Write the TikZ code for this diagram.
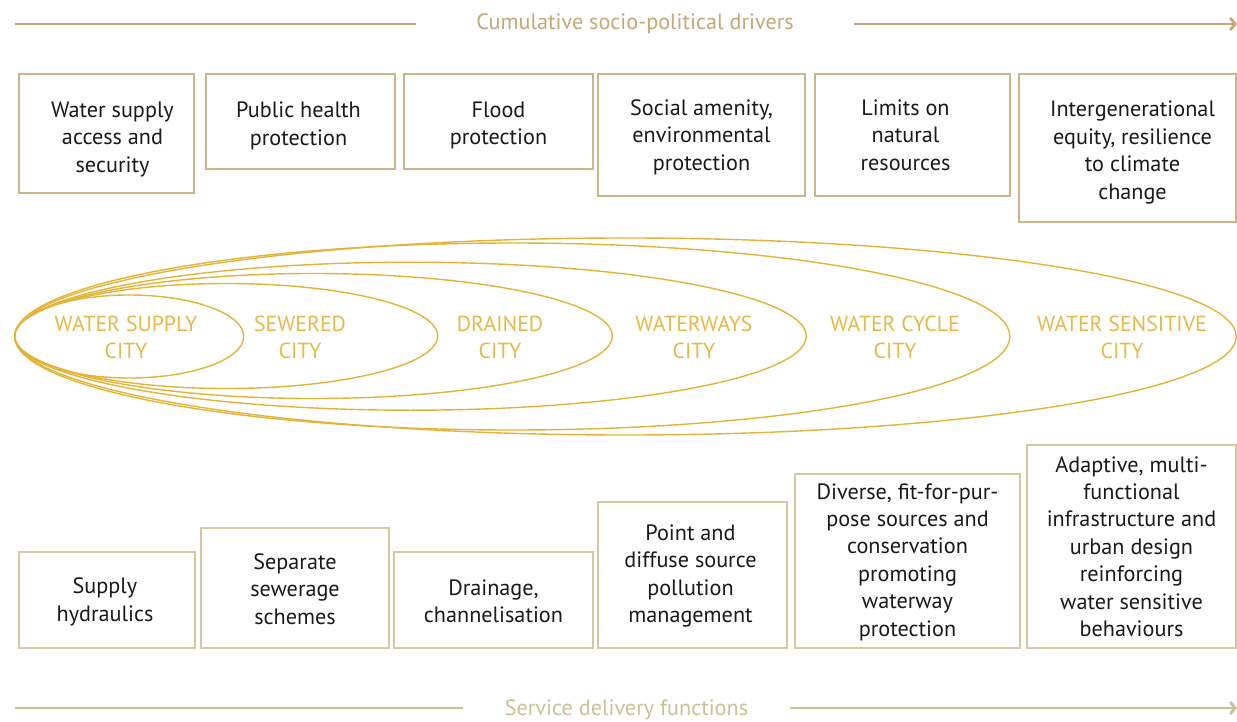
\documentclass[tikz,border=0pt]{standalone}
\usepackage{fontspec}
\setmainfont{PT Sans}
\usetikzlibrary{arrows.meta}
\definecolor{toptan}{HTML}{C6A878}
\definecolor{topbox}{HTML}{CDB48C}
\definecolor{bottan}{HTML}{CBC197}
\definecolor{botbox}{HTML}{D3CAA3}
\definecolor{gold}{HTML}{E3B437}
\definecolor{goldtxt}{HTML}{E6BA48}
\definecolor{ink}{HTML}{1A1A1A}
\tikzset{
  basefont/.style={font=\fontsize{22.2}{27.4}\selectfont},
  tbox/.style={draw=topbox, line width=1.6pt, inner sep=0pt},
  bbox/.style={draw=botbox, line width=1.6pt, inner sep=0pt},
  txt/.style={basefont, text=ink, align=center, inner sep=0pt},
  hdr/.style={font=\fontsize{22.2}{27}\selectfont, inner sep=0pt},
  ell/.style={draw=gold, line width=1.4pt},
  city/.style={font=\fontsize{21.8}{27}\selectfont, text=goldtxt, align=center, inner sep=0pt},
  tipline/.style={line width=2pt, -{Straight Barb[length=5pt,width=12pt,line width=2.8pt]}},
}
\begin{document}
\begin{tikzpicture}[x=1pt,y=-1pt]
\useasboundingbox[fill=white] (0,0) rectangle (1237,722);

% header arrow
\node[hdr, text=toptan] (top) at (635,24) {Cumulative socio-political drivers};
\coordinate (ts) at (15,24);
\coordinate (te) at (1237,24);
\draw[toptan, line width=2pt] (ts) -- ([xshift=-60pt]top.west |- ts);
\draw[toptan, tipline] ([xshift=60pt]top.east |- te) -- (te);

% top boxes
\node[tbox, minimum width=175pt, minimum height=119pt] (d1) at (106.5,133.5) {};
\node[tbox, minimum width=189pt, minimum height=95pt] (d2) at (300.5,121.5) {};
\node[tbox, minimum width=189pt, minimum height=95pt] (d3) at (498.5,121.5) {};
\node[tbox, minimum width=207pt, minimum height=122pt] (d4) at (701.5,135) {};
\node[tbox, minimum width=195pt, minimum height=122pt] (d5) at (912.5,135) {};
\node[tbox, minimum width=217pt, minimum height=148pt] (d6) at (1127.5,148) {};
\node[txt] (d1t) at ([xshift=6pt,yshift=-6pt]d1.center) {Water supply\\access and\\security};
\node[txt] (d2t) at ([xshift=-2pt,yshift=-4.5pt]d2.center) {Public health\\protection};
\node[txt] (d3t) at ([yshift=-4pt]d3.center) {Flood\\protection};
\node[txt] (d4t) at ([yshift=-2pt]d4.center) {Social amenity,\\environmental\\protection};
\node[txt] (d5t) at ([xshift=-7pt,yshift=0pt]d5.center) {Limits on\\natural\\resources};
\node[txt] (d6t) at ([xshift=5pt,yshift=-4.5pt]d6.center) {Intergenerational\\equity, resilience\\to climate\\change};

% ellipses
\draw[ell] (129.2,336.5) ellipse [x radius=114.5pt, y radius=41.5pt];
\draw[ell] (226.2,336) ellipse [x radius=211.5pt, y radius=52.5pt];
\draw[ell] (313.5,336) ellipse [x radius=298.8pt, y radius=62.5pt];
\draw[ell] (410.5,336.2) ellipse [x radius=395.8pt, y radius=74pt];
\draw[ell] (512.3,336.5) ellipse [x radius=497.6pt, y radius=93.5pt];
\draw[ell] (625.5,336.5) ellipse [x radius=610.8pt, y radius=98.5pt];

\node[city] (c1) at (126,337.5) {WATER SUPPLY\\CITY};
\node[city] (c2) at (300,337.5) {SEWERED\\CITY};
\node[city] (c3) at (500,337.5) {DRAINED\\CITY};
\node[city] (c4) at (694,337.5) {WATERWAYS\\CITY};
\node[city] (c5) at (895,337.5) {WATER CYCLE\\CITY};
\node[city] (c6) at (1122,337.5) {WATER SENSITIVE\\CITY};

% bottom boxes
\node[bbox, minimum width=176pt, minimum height=96pt] (f1) at (107,600) {};
\node[bbox, minimum width=188pt, minimum height=120pt] (f2) at (295,588) {};
\node[bbox, minimum width=199pt, minimum height=96pt] (f3) at (493.5,600) {};
\node[bbox, minimum width=189pt, minimum height=146pt] (f4) at (692.5,575) {};
\node[bbox, minimum width=225pt, minimum height=174pt] (f5) at (907.5,561) {};
\node[bbox, minimum width=209pt, minimum height=203pt] (f6) at (1131.5,546.5) {};
\node[txt] (f1t) at ([xshift=-2pt,yshift=-2pt]f1.center) {Supply\\hydraulics};
\node[txt] (f2t) at ([yshift=-1pt]f2.center) {Separate\\sewerage\\schemes};
\node[txt] (f3t) at ([yshift=-1pt]f3.center) {Drainage,\\channelisation};
\node[txt] (f4t) at ([xshift=-2pt,yshift=-1pt]f4.center) {Point and\\diffuse source\\pollution\\management};
\node[txt] (f5t) at ([yshift=-1pt]f5.center) {Diverse, fit-for-pur-\\pose sources and\\conservation\\promoting\\waterway\\protection};
\node[txt] (f6t) at (f6.center) {Adaptive, multi-\\functional\\infrastructure and\\urban design\\reinforcing\\water sensitive\\behaviours};

% footer arrow
\node[hdr, text=bottan] (bot) at (626.5,710) {Service delivery functions};
\coordinate (bs) at (15,708);
\coordinate (be) at (1237,708);
\draw[bottan, line width=2pt] (bs) -- ([xshift=-42pt]bot.west |- bs);
\draw[bottan, tipline] ([xshift=42pt]bot.east |- be) -- (be);
\end{tikzpicture}
\end{document}
